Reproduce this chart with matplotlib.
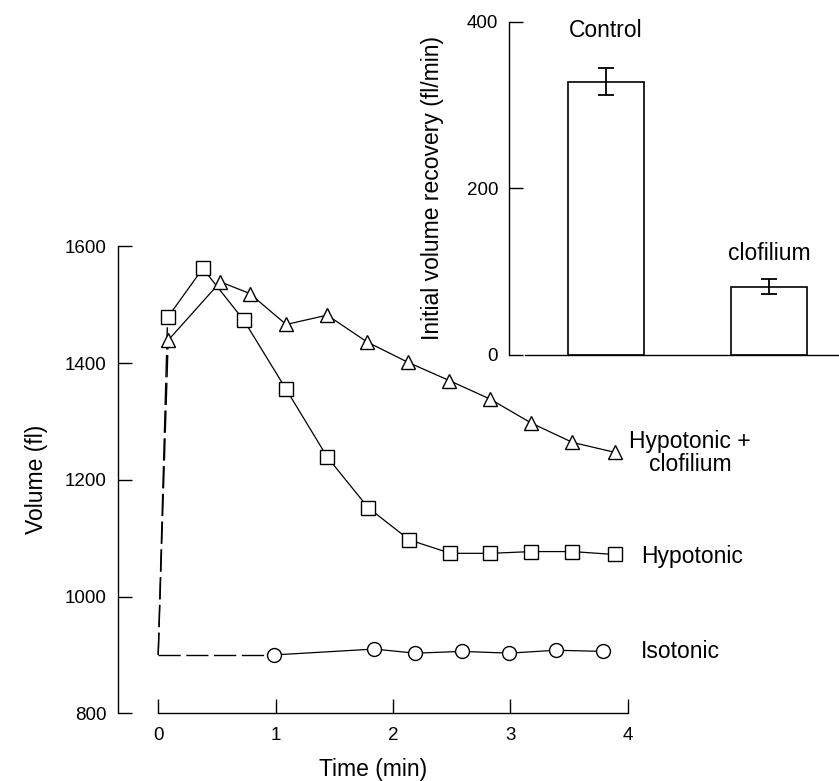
import matplotlib
matplotlib.use('Agg')
import matplotlib.pyplot as plt

plt.rcParams['font.family'] = ['Liberation Sans', 'DejaVu Sans']

# time course (min) and volumes (fl)
t_hypo = [0.08, 0.38, 0.73, 1.09, 1.44, 1.79, 2.14, 2.49, 2.83, 3.18, 3.53, 3.89]
vol_hypo = [1478, 1562, 1473, 1355, 1239, 1152, 1097, 1074, 1074, 1077, 1077, 1072]
t_clof = [0.085, 0.53, 0.78, 1.09, 1.44, 1.78, 2.13, 2.48, 2.83, 3.18, 3.53, 3.89]
vol_clof = [1439, 1539, 1519, 1466, 1482, 1436, 1401, 1370, 1338, 1297, 1264, 1247]
t_iso = [0.99, 1.84, 2.19, 2.59, 2.99, 3.39, 3.79]
vol_iso = [900, 910, 903, 906, 903, 908, 906]
baseline = 900

# inset bars
bar_names = ['Control', 'clofilium']
bar_vals = [328, 82]
bar_err = [16, 9]

fig = plt.figure(figsize=(8.39, 7.81), dpi=100)

ax = fig.add_axes([0.1406, 0.0867, 0.6075, 0.598])
mk = dict(color='black', lw=0.9, markerfacecolor='white', markeredgecolor='black',
          markeredgewidth=1.0)
dash = dict(color='black', lw=1.0, dashes=(16, 4))

# dashed onset from baseline
ax.plot([0, t_iso[0]], [baseline, vol_iso[0]], **dash)
ax.plot([0, t_clof[0]], [baseline, vol_clof[0]], **dash)
ax.plot([0, t_hypo[0]], [baseline, vol_hypo[0]], **dash)

ax.plot(t_iso, vol_iso, marker='o', markersize=10, **mk)
ax.plot(t_hypo, vol_hypo, marker='s', markersize=9.5, **mk)
ax.plot(t_clof, vol_clof, marker='^', markersize=10.5, **mk)

ax.set_xlim(-0.343, 4.0)
ax.set_ylim(800, 1600)
ax.set_xticks([0, 1, 2, 3, 4])
ax.set_yticks([800, 1000, 1200, 1400, 1600])
ax.spines['top'].set_visible(False)
ax.spines['right'].set_visible(False)
ax.spines['bottom'].set_bounds(0, 4)
for s in ['left', 'bottom']:
    ax.spines[s].set_linewidth(1.0)
ax.tick_params(direction='in', length=10, width=1.0, labelsize=13.5)
ax.tick_params(axis='y', pad=8)
ax.tick_params(axis='x', pad=10)
ax.set_xlabel('Time (min)', fontsize=16.5, labelpad=10)
ax.set_ylabel('Volume (fl)', fontsize=16.5, labelpad=12)

ax.text(4.53, 1246, 'Hypotonic +\nclofilium', ha='center', va='center',
        fontsize=16.5, linespacing=1.0, clip_on=False)
ax.text(4.55, 1069, 'Hypotonic', ha='center', va='center', fontsize=16.5, clip_on=False)
ax.text(4.45, 905, 'Isotonic', ha='center', va='center', fontsize=16.5, clip_on=False)

# inset
ax2 = fig.add_axes([0.607, 0.5455, 0.393, 0.4267])
pos = [0, 1]
ax2.bar(pos, bar_vals, width=0.466, color='white', edgecolor='black', linewidth=1.2)
ax2.errorbar(pos, bar_vals, yerr=bar_err, fmt='none', ecolor='black', elinewidth=1.3,
             capsize=6, capthick=1.3)
ax2.set_xlim(-0.595, 1.43)
ax2.set_ylim(0, 400)
ax2.set_yticks([0, 200, 400])
ax2.set_xticks([])
ax2.spines['top'].set_visible(False)
ax2.spines['right'].set_visible(False)
ax2.spines['bottom'].set_bounds(-0.497, 1.43)
for s in ['left', 'bottom']:
    ax2.spines[s].set_linewidth(1.0)
ax2.tick_params(axis='y', direction='in', length=10, width=1.0, labelsize=13.5, pad=8)
ax2.set_ylabel('Initial volume recovery (fl/min)', fontsize=16.5, labelpad=16)
ax2.text(0, 390, bar_names[0], ha='center', va='center', fontsize=16.5)
ax2.text(1, 122, bar_names[1], ha='center', va='center', fontsize=16.5)

fig.savefig('out.png', dpi=100)
